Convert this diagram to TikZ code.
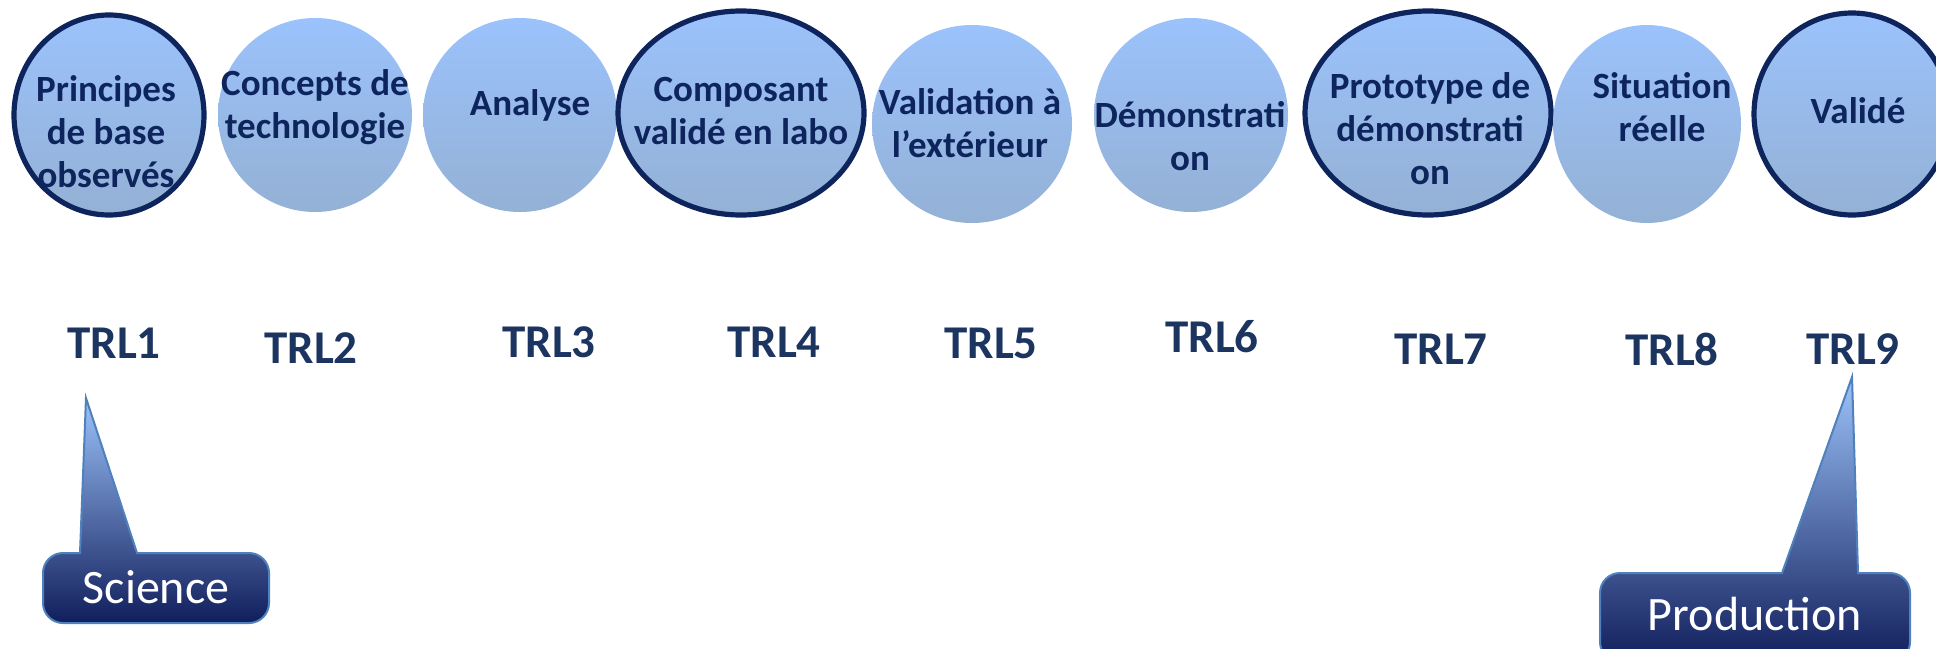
\documentclass[tikz,border=0pt]{standalone}
\usepackage{fontspec}
\setmainfont{Carlito}
\usetikzlibrary{shapes.geometric}
\definecolor{bubtop}{RGB}{155,194,252}
\definecolor{bubbot}{RGB}{148,177,213}
\definecolor{navy}{RGB}{14,36,92}
\definecolor{trlc}{RGB}{28,52,96}
\definecolor{calltop}{RGB}{157,195,250}
\definecolor{callbot}{RGB}{16,30,92}
\definecolor{callline}{RGB}{79,129,189}
\begin{document}
\begin{tikzpicture}[x=0.5pt,y=-0.5pt,
 bubble/.style={ellipse, top color=bubtop, bottom color=bubbot, inner sep=0, outer sep=0},
 ring/.style={draw=navy, line width=2.6pt},
 btext/.style={font=\fontsize{18.5}{21.5}\selectfont\bfseries, text=navy, align=center, inner sep=0},
 trl/.style={font=\fontsize{23.5}{28}\selectfont\bfseries, text=trlc, inner sep=0},
 callshape/.style={draw=callline, line width=1pt, top color=calltop, bottom color=callbot},
 calltext/.style={font=\fontsize{24}{28}\selectfont, text=white, inner sep=0, anchor=base}]
\useasboundingbox (0,0) rectangle (1936,648);
\clip (0,0) rectangle (1936,648);
% bubbles
\node[bubble, ring, minimum width=95pt, minimum height=100pt] (e1) at (109,115) {};
\node[bubble, minimum width=97pt, minimum height=97pt] (e2) at (315,115) {};
\node[bubble, minimum width=97pt, minimum height=97pt] (e3) at (520,115) {};
\node[bubble, ring, minimum width=123pt, minimum height=102pt] (e4) at (741,113) {};
\node[bubble, minimum width=100pt, minimum height=99pt] (e5) at (972,124) {};
\node[bubble, minimum width=97pt, minimum height=97pt] (e6) at (1191,115) {};
\node[bubble, ring, minimum width=123pt, minimum height=102pt] (e7) at (1428,113) {};
\node[bubble, minimum width=94pt, minimum height=99pt] (e8) at (1647,124) {};
\node[bubble, ring, minimum width=98pt, minimum height=101pt] (e9) at (1852,114) {};
% bubble texts
\node[btext] (t1) at (106,132) {Principes\\de base\\observés};
\node[btext] (t2) at (315,107) {Concepts de\\technologie};
\node[btext] (t3) at (530,105) {Analyse};
\node[btext] (t4) at (741,111) {Composant\\validé en labo};
\node[btext] (t5) at (970,123) {Validation à\\l’extérieur};
\node[btext] (t6) at (1190,136) {Démonstrati\\on};
\node[btext] (t7) at (1430,129) {Prototype de\\démonstrati\\on};
\node[btext] (t8) at (1662,107) {Situation\\réelle};
\node[btext] (t9) at (1858,111) {Validé};
% TRL labels
\node[trl] (r1) at (114,343) {TRL1};
\node[trl] (r2) at (311,348) {TRL2};
\node[trl] (r3) at (549,342) {TRL3};
\node[trl] (r4) at (774,342) {TRL4};
\node[trl] (r5) at (991,343) {TRL5};
\node[trl] (r6) at (1212,337) {TRL6};
\node[trl] (r7) at (1441,349) {TRL7};
\node[trl] (r8) at (1672,349) {TRL8};
\node[trl] (r9) at (1853,349) {TRL9};
% callouts
\coordinate (sciTip) at (86,398);
\coordinate (prodTip) at (1852,377);
\path[callshape] (80,553) -- (sciTip) -- (137,553) [rounded corners=10] -- (269,553) -- (269,623) -- (43,623) -- (43,553) [sharp corners] -- cycle;
\node[calltext] (sci) at (156,603) {Science};
\path[callshape] (1782,573) -- (prodTip) -- (1858,573) [rounded corners=10] -- (1910,573) -- (1910,662) -- (1600,662) -- (1600,573) [sharp corners] -- cycle;
\node[calltext] (prod) at (1755,630) {Production};
\end{tikzpicture}
\end{document}
